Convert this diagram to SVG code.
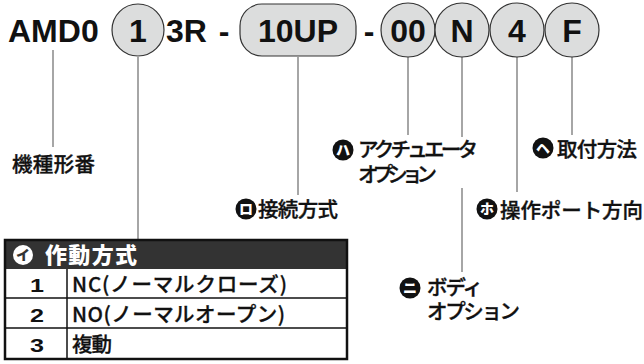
<svg xmlns="http://www.w3.org/2000/svg" width="644" height="364" viewBox="0 0 644 364">
<style>
.code{font-family:"Liberation Sans",Arial,sans-serif;font-weight:bold;font-size:32px;fill:#111}
.pill{fill:#dcdddd;stroke:#333;stroke-width:1.2}
.conn{stroke:#a6a6a6;stroke-width:2;fill:none}
.lbl{font-family:"Noto Sans CJK JP",sans-serif;font-size:20.5px;font-weight:500;fill:#111;stroke:#111;stroke-width:0.35}
.badge{fill:#111}
.bt{font-family:"Noto Sans CJK JP",sans-serif;font-size:14px;font-weight:900;fill:#fff}
.cell{font-family:"Noto Sans CJK JP",sans-serif;font-size:20.5px;font-weight:500;fill:#111;stroke:#111;stroke-width:0.3}
.num{font-family:"Liberation Sans",Arial,sans-serif;font-weight:900;font-size:19px;fill:#111}
.grid{stroke:#111;stroke-width:1.5;fill:none}
</style>
<rect width="644" height="364" fill="#fff"/>
<g id="connectors">
<line class="conn" x1="53" y1="50" x2="53" y2="147"/>
<line class="conn" x1="138" y1="57" x2="138" y2="240"/>
<line class="conn" x1="298" y1="57" x2="298" y2="195"/>
<line class="conn" x1="408" y1="57" x2="408" y2="135"/>
<line class="conn" x1="462" y1="57" x2="462" y2="137"/>
<line class="conn" x1="462" y1="188" x2="462" y2="272"/>
<line class="conn" x1="517" y1="57" x2="517" y2="192"/>
<line class="conn" x1="572" y1="57" x2="572" y2="135"/>
</g>
<g id="code">
<text class="code" x="8" y="42">AMD0</text>
<g id="seg-1"><circle class="pill" cx="138" cy="30" r="26"/><text class="code" x="138" y="42" text-anchor="middle">1</text></g>
<text class="code" x="166" y="42">3R</text>
<text class="code" x="224" y="42" text-anchor="middle">-</text>
<g id="seg-10UP"><rect class="pill" x="240" y="4" width="116" height="52" rx="22"/><text class="code" x="298" y="42" text-anchor="middle">10UP</text></g>
<text class="code" x="369" y="42" text-anchor="middle">-</text>
<g id="seg-00"><circle class="pill" cx="408" cy="30" r="27"/><text class="code" x="408" y="42" text-anchor="middle">00</text></g>
<g id="seg-N"><circle class="pill" cx="462" cy="30" r="27"/><text class="code" x="462" y="42" text-anchor="middle">N</text></g>
<g id="seg-4"><circle class="pill" cx="517" cy="30" r="27"/><text class="code" x="517" y="42" text-anchor="middle">4</text></g>
<g id="seg-F"><circle class="pill" cx="572" cy="30" r="27"/><text class="code" x="572" y="42" text-anchor="middle">F</text></g>
</g>
<g id="label-model"><text class="lbl" x="12" y="172" textLength="83">機種形番</text></g>
<g id="label-ro">
<circle class="badge" cx="246" cy="209" r="10.5"/><text class="bt" x="246" y="214" text-anchor="middle">ロ</text>
<text class="lbl" x="258" y="217" textLength="80">接続方式</text>
</g>
<g id="label-ha">
<circle class="badge" cx="343" cy="150" r="10.5"/><text class="bt" x="343" y="155" text-anchor="middle">ハ</text>
<text class="lbl" x="358" y="157" textLength="120">アクチュエータ</text>
<text class="lbl" x="358" y="182" textLength="79">オプション</text>
</g>
<g id="label-he">
<circle class="badge" cx="543" cy="148" r="10.5"/><text class="bt" x="543" y="153" text-anchor="middle">ヘ</text>
<text class="lbl" x="557" y="157" textLength="80">取付方法</text>
</g>
<g id="label-ho">
<circle class="badge" cx="487" cy="209" r="10.5"/><text class="bt" x="487" y="214" text-anchor="middle">ホ</text>
<text class="lbl" x="500" y="218" textLength="143">操作ポート方向</text>
</g>
<g id="label-ni">
<circle class="badge" cx="410" cy="288" r="10.5"/><text class="bt" x="410" y="293" text-anchor="middle">ニ</text>
<text class="lbl" x="427" y="295" textLength="56">ボディ</text>
<text class="lbl" x="427" y="319" textLength="93">オプション</text>
</g>
<g id="table">
<rect x="5" y="240" width="342" height="29" fill="#333"/>
<circle cx="23" cy="255" r="10" fill="#fff"/>
<text x="23" y="260" text-anchor="middle" style="font-family:'Noto Sans CJK JP',sans-serif;font-size:14px;font-weight:900;fill:#333">イ</text>
<text x="45" y="263" textLength="92" style="font-family:'Noto Sans CJK JP',sans-serif;font-size:22px;font-weight:900;fill:#fff">作動方式</text>
<line class="grid" x1="5" y1="298" x2="347" y2="298"/>
<line class="grid" x1="5" y1="328" x2="347" y2="328"/>
<line class="grid" x1="67" y1="269" x2="67" y2="359"/>
<rect x="5" y="240" width="342" height="119" fill="none" stroke="#111" stroke-width="2.5"/>
<text class="num" x="30" y="292" textLength="14" lengthAdjust="spacingAndGlyphs">1</text>
<text class="num" x="30" y="322" textLength="14" lengthAdjust="spacingAndGlyphs">2</text>
<text class="num" x="30" y="352" textLength="14" lengthAdjust="spacingAndGlyphs">3</text>
<text class="cell" x="72" y="292" textLength="215">NC(ノーマルクローズ)</text>
<text class="cell" x="72" y="322" textLength="213">NO(ノーマルオープン)</text>
<text class="cell" x="72" y="352" textLength="40">複動</text>
</g>
</svg>
